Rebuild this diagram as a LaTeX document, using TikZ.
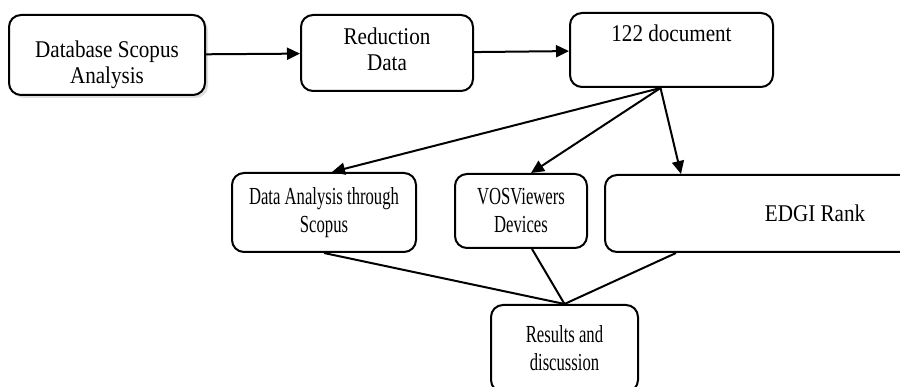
\documentclass[tikz,border=0pt]{standalone}
\usepackage{fontspec}
\setmainfont{Liberation Serif}
\newfontfamily\wideface[FakeStretch=0.88]{Liberation Serif}
\newfontfamily\narrowface[FakeStretch=0.68]{Liberation Serif}
\usetikzlibrary{arrows.meta,shadows,calc}

\begin{document}
\begin{tikzpicture}[x=1pt, y=-1pt,
  box/.style={rectangle, rounded corners=12pt, draw, fill=white, line width=2pt, align=center, inner sep=0pt, font=\fontsize{24}{25.5}\wideface},
  narrow/.style={font=\fontsize{24.5}{28}\narrowface},
  arr/.style={line width=2pt, -{Triangle[length=13pt,width=12pt]}},
  link/.style={line width=2pt}]
\useasboundingbox (0,0) rectangle (900,387);
\clip (0,0) rectangle (900,387);
\node (db) at (107, 55) [box, minimum width=196pt, minimum height=80pt, drop shadow={fill=black!25, shadow xshift=3pt, shadow yshift=-3pt}] {\rule{0pt}{36pt}Database Scopus\\Analysis};
\node (red) at (387, 53) [box, minimum width=172pt, minimum height=76pt] {Reduction\\Data\rule[-8pt]{0pt}{8pt}};
\node (doc) at (671.5, 50) [box, minimum width=203pt, minimum height=74pt] {122 document\\\rule[-8pt]{0pt}{8pt}};
\node (das) at (324, 212.5) [box, narrow, minimum width=184pt, minimum height=79pt] {Data Analysis through\\Scopus};
\node (vos) at (521, 211) [box, narrow, minimum width=132pt, minimum height=74pt] {VOSViewers\\Devices};
\node (edgi) at (815, 213.5) [box, minimum width=420pt, minimum height=77pt] {EDGI Rank};
\node (res) at (564.5, 348.5) [box, narrow, minimum width=147pt, minimum height=87pt] {Results and\\discussion};
\coordinate (split) at ($(doc.south)+(-11,0)$);
\coordinate (join) at (res.north);
\draw [arr] (db) -- (red);
\draw [arr] (red) -- (doc);
\draw [arr] (split) -- ($(das.north)+(8,0)$);
\draw [arr] (split) -- ($(vos.north)+(10,0)$);
\draw [arr] (split) -- ($(edgi.north west)+(77,0)$);
\draw [link] (das.south) -- (join);
\draw [link] ($(vos.south)+(11,0)$) -- (join);
\draw [link] ($(edgi.south west)+(72,0)$) -- (join);
\end{tikzpicture}
\end{document}
